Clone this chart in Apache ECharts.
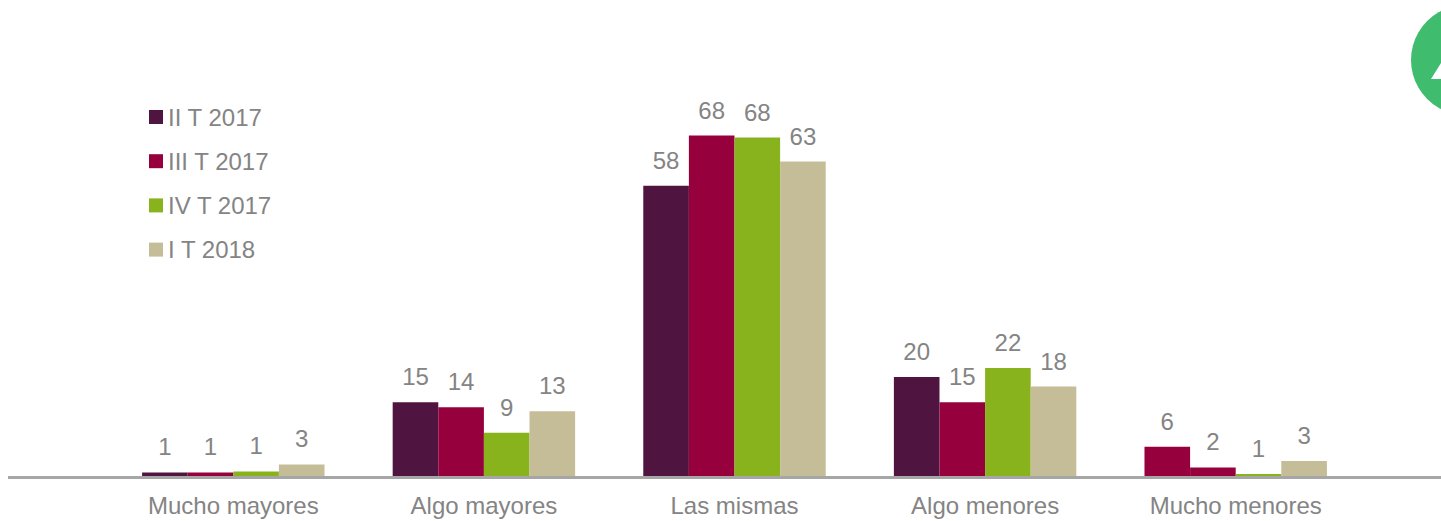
<!DOCTYPE html>
<html><head><meta charset="utf-8">
<style>html,body{margin:0;padding:0;background:#fff}#c{width:1441px;height:521px}</style>
<script src="https://cdn.jsdelivr.net/npm/echarts@6/dist/echarts.min.js"></script>
</head><body><div id="c"></div>
<script>
const categories = ['Mucho mayores','Algo mayores','Las mismas','Algo menores','Mucho menores'];
const seriesNames = ['II T 2017','III T 2017','IV T 2017','I T 2018'];
const colors = ['#4F143F','#96003C','#88B31D','#C5BD97'];
// bar heights; labels show the published rounded figures
const t2_2017 = [0.9,14.9,58,19.9,6];
const t3_2017 = [0.9,13.9,68,14.9,1.9];
const t4_2017 = [1.1,8.8,67.6,21.7,0.6];
const t1_2018 = [2.5,13.1,62.8,18,3.2];
const labels_t2 = ['1','15','58','20','6'];
const labels_t3 = ['1','14','68','15','2'];
const labels_t4 = ['1','9','68','22','1'];
const labels_t1 = ['3','13','63','18','3'];
const values = [t2_2017,t3_2017,t4_2017,t1_2018];
const labels = [labels_t2,labels_t3,labels_t4,labels_t1];
// the reference paints the first "Mucho menores" bar in the second series' colour
const recoloured = {series:0, index:4, color:colors[1]};
const chart = echarts.init(document.getElementById('c'),null,{renderer:'svg'});
const font = '"Liberation Sans",Arial,sans-serif';
chart.setOption({
  animation:false,
  textStyle:{fontFamily:font},
  grid:{left:108,width:1253,top:20,bottom:44,containLabel:false},
  legend:{show:true,orient:'vertical',left:149,top:105,padding:0,itemWidth:14,itemHeight:14,itemGap:20.2,
    icon:'rect',data:seriesNames,
    textStyle:{color:'#848484',fontSize:24,fontFamily:font,lineHeight:22}},
  xAxis:{type:'category',data:categories,axisTick:{show:false},axisLine:{show:false},
    axisLabel:{color:'#848484',fontSize:24,margin:16,interval:0}},
  yAxis:{type:'value',min:0,max:91,show:false},
  series:values.map((v,i)=>({
    name:seriesNames[i],type:'bar',barGap:0,barCategoryGap:'27.2%',
    data:v.map((y,k)=> (recoloured.series===i && recoloured.index===k)
      ? {value:y,itemStyle:{color:recoloured.color}} : y),
    itemStyle:{color:colors[i]},
    label:{show:true,position:'top',distance:13.5,color:'#848484',fontSize:24,
      formatter:p=>labels[i][p.dataIndex]}
  })),
  graphic:[
    {type:'line',silent:true,z:10,shape:{x1:8,y1:477.5,x2:1441,y2:477.5},style:{stroke:'#A6A6A6',lineWidth:3}},
    {type:'circle',silent:true,shape:{cx:1466,cy:60,r:55},style:{fill:'#3FBC6E'}},
    {type:'polygon',silent:true,shape:{points:[[1431,79],[1441,63],[1441,79]]},style:{fill:'#fff'}}
  ]
});
</script></body></html>
